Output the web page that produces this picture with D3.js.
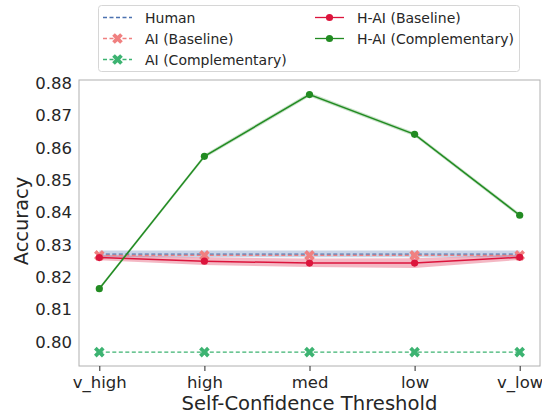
<!DOCTYPE html>
<html><head><meta charset="utf-8">
<script src="https://cdn.jsdelivr.net/npm/d3@7"></script>
<style>body{margin:0;background:#fff}svg{display:block;font-family:"DejaVu Sans",sans-serif}</style>
</head><body><svg id="c" width="542" height="415"></svg>
<script>
const categories = ["v_high","high","med","low","v_low"];
const yTicks = [0.80,0.81,0.82,0.83,0.84,0.85,0.86,0.87,0.88];
const human = [0.8272,0.8272,0.8272,0.8272,0.8272];
const humanLo = [0.8262,0.8262,0.8262,0.8262,0.8262];
const humanHi = [0.8283,0.8283,0.8283,0.8283,0.8283];
const aiBase = [0.8268,0.8268,0.8268,0.8268,0.8268];
const aiComp = [0.7969,0.7969,0.7969,0.7969,0.7969];
const haiBase = [0.8261,0.8250,0.8244,0.8244,0.8262];
const haiBaseLo = [0.8253,0.8238,0.8232,0.8229,0.8254];
const haiBaseHi = [0.8269,0.8262,0.8258,0.8259,0.8270];
const haiComp = [0.8165,0.8574,0.8765,0.8642,0.8392];
const haiCompLo = [0.8160,0.8568,0.8759,0.8636,0.8386];
const haiCompHi = [0.8170,0.8580,0.8771,0.8648,0.8398];

const svg = d3.select("#c");
const L=79, R=540, T=80, B=366;
const x = d3.scalePoint().domain(categories).range([99.3,519.7]);
const y = d3.scaleLinear().domain([0.7926,0.8810]).range([B,T]);

svg.append("rect").attr("x",L).attr("y",T).attr("width",R-L).attr("height",B-T)
  .attr("fill","none").attr("stroke","#b0b0b0").attr("stroke-width",1);

const ya = svg.append("g").attr("transform",`translate(${L},0)`)
  .call(d3.axisLeft(y).tickValues(yTicks).tickFormat(d3.format(".2f")).tickSize(0).tickPadding(7));
ya.select(".domain").remove();
ya.selectAll("text").attr("font-size",16.5).attr("fill","#262626").attr("font-family","DejaVu Sans");

const xa = svg.append("g").attr("transform",`translate(0,${B})`)
  .call(d3.axisBottom(x).tickSize(5).tickPadding(5));
xa.select(".domain").remove();
xa.selectAll("line").attr("stroke","#262626");
xa.selectAll("text").attr("font-size",16.5).attr("fill","#262626").attr("font-family","DejaVu Sans");

svg.append("text").attr("x",309.5).attr("y",410).attr("text-anchor","middle")
  .attr("font-size",19.6).attr("fill","#262626").text("Self-Confidence Threshold");
svg.append("text").attr("transform","translate(28,221) rotate(-90)").attr("text-anchor","middle")
  .attr("font-size",19.4).attr("fill","#262626").text("Accuracy");

const area = (lo,hi)=>d3.area().x((d,i)=>x(categories[i])).y0((d,i)=>y(lo[i])).y1((d,i)=>y(hi[i]));
const line = d3.line().x((d,i)=>x(categories[i])).y(d=>y(d));
const g = svg.append("g");

function band(lo,hi,color,op){ g.append("path").datum(lo).attr("d",area(lo,hi)).attr("fill",color).attr("fill-opacity",op); }
function xMark(sel,cx,cy,color,s){
  sel.append("path").attr("transform",`translate(${cx},${cy}) rotate(45)`)
    .attr("d",d3.symbol(d3.symbolCross).size(s)()).attr("fill",color);
}
function series(vals,color,dash,marker,lw){
  g.append("path").datum(vals).attr("d",line).attr("fill","none").attr("stroke",color)
   .attr("stroke-width",lw).attr("stroke-dasharray",dash||null);
  vals.forEach((v,i)=>{
    if(marker==="o") g.append("circle").attr("cx",x(categories[i])).attr("cy",y(v)).attr("r",3.6).attr("fill",color);
    else if(marker==="x") xMark(g,x(categories[i]),y(v),color,70);
  });
}
band(humanLo,humanHi,"#4c72b0",0.3);
band(haiBaseLo,haiBaseHi,"#dc143c",0.3);
band(haiCompLo,haiCompHi,"#228b22",0.25);
series(human,"#4c72b0","4,2.5",null,1.3);
series(aiBase,"#f08080","4,2.5","x",1.3);
series(aiComp,"#3cb371","4,2.5","x",1.3);
series(haiBase,"#dc143c",null,"o",1.5);
series(haiComp,"#228b22",null,"o",1.5);

const lg = svg.append("g");
lg.append("rect").attr("x",98.5).attr("y",5.5).attr("width",421).attr("height",66).attr("rx",3)
  .attr("fill","#fff").attr("fill-opacity",0.8).attr("stroke","#d6d6d6");
const items = [
  {t:"Human",c:"#4c72b0",d:"4,2.5",m:null,x:103,y:17.5},
  {t:"AI (Baseline)",c:"#f08080",d:"4,2.5",m:"x",x:103,y:38.5},
  {t:"AI (Complementary)",c:"#3cb371",d:"4,2.5",m:"x",x:103,y:59.5},
  {t:"H-AI (Baseline)",c:"#dc143c",d:null,m:"o",x:315,y:17.5},
  {t:"H-AI (Complementary)",c:"#228b22",d:null,m:"o",x:315,y:38.5}
];
items.forEach(it=>{
  lg.append("line").attr("x1",it.x).attr("x2",it.x+29).attr("y1",it.y).attr("y2",it.y)
    .attr("stroke",it.c).attr("stroke-width",1.3).attr("stroke-dasharray",it.d);
  if(it.m==="o") lg.append("circle").attr("cx",it.x+14.5).attr("cy",it.y).attr("r",3.6).attr("fill",it.c);
  if(it.m==="x") xMark(lg,it.x+14.5,it.y,it.c,70);
  lg.append("text").attr("x",it.x+42).attr("y",it.y+5).attr("font-size",14).attr("fill","#262626").text(it.t);
});
</script></body></html>
